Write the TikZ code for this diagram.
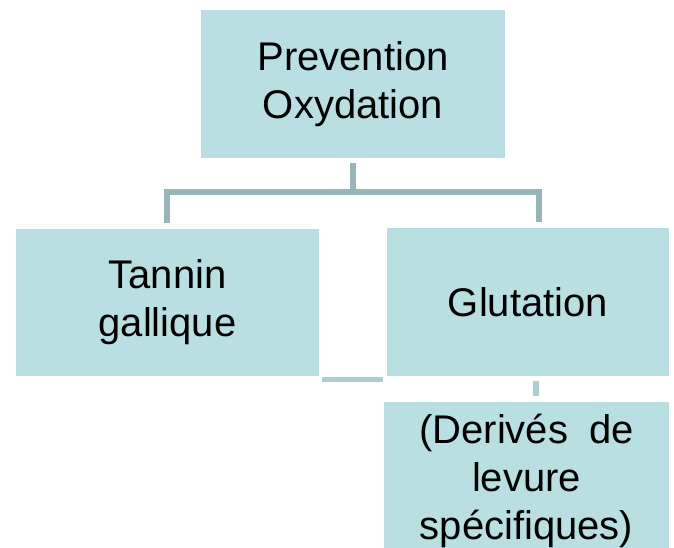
\documentclass[tikz,border=0pt]{standalone}
\usepackage{fontspec}
\setmainfont{Liberation Sans}
\definecolor{boxfill}{HTML}{BADFE2}
\definecolor{linkcol}{HTML}{98B6B9}
\definecolor{stubcol}{HTML}{AACFD2}
\tikzset{
  box/.style={fill=boxfill, inner sep=0pt, align=center,
    font=\fontsize{40}{48}\selectfont},
  link/.style={draw=linkcol, line width=6pt},
}
\begin{document}
\begin{tikzpicture}[x=1pt, y=-1pt]
        \useasboundingbox (0,0) rectangle (674,547);

        % The root box
        \node[box, minimum width=304pt, minimum height=148pt] (prev) at (353,84) {Prevention\\Oxydation};

        % The two children
        \node[box, minimum width=303pt, minimum height=147.5pt] (tann) at (167.5,302.5) {Tannin\\gallique};
        \node[box, minimum width=282pt, minimum height=147.5pt] (glut) at (528,301.75) {Glutation};

        % The box below Glutation
        \node[box, minimum width=285pt, minimum height=158pt] (deri) at (526.5,481) {(Derivés\hspace{0.25em} de\\levure\\spécifiques)};

        % The tree connector
        \coordinate (fork) at (353,191.5);
        \draw[link] ([yshift=-5pt]prev.south) -- (fork);
        \draw[link] (fork) -| ([xshift=-0.5pt, yshift=6pt]tann.north);
        \draw[link] (fork) -| ([xshift=11pt, yshift=6pt]glut.north);

        % The loose stubs
        \coordinate (stubl) at (322,379);
        \coordinate (stubr) at (383,379);
        \draw[stubcol, line width=5pt] (stubl) -- (stubr);
        \coordinate (ticka) at (536,381);
        \draw[stubcol, line width=6pt] (ticka) -- ([yshift=6pt]deri.north -| ticka);
\end{tikzpicture}
\end{document}
